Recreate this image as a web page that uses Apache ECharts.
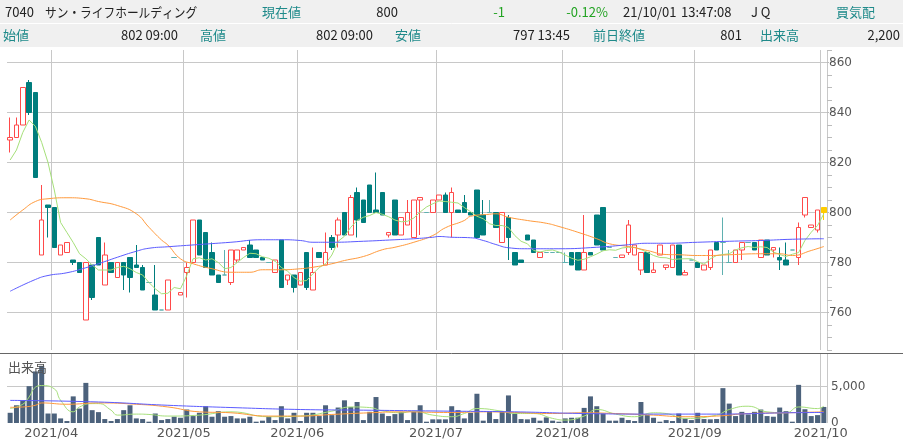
<!DOCTYPE html>
<html><head><meta charset="utf-8">
<script src="https://cdn.jsdelivr.net/npm/echarts@6/dist/echarts.min.js"></script>
<style>html,body{margin:0;padding:0;background:#fff;}#c{width:903px;height:448px;}</style>
</head><body><div id="c"></div>
<script>
const dates = [
'2021/03/23','2021/03/24','2021/03/25','2021/03/26','2021/03/29','2021/03/30','2021/03/31',
'2021/04/01','2021/04/02','2021/04/05','2021/04/06','2021/04/07','2021/04/08','2021/04/09','2021/04/12','2021/04/13','2021/04/14','2021/04/15','2021/04/16','2021/04/19','2021/04/20','2021/04/21','2021/04/22','2021/04/23','2021/04/26','2021/04/27','2021/04/28','2021/04/30',
'2021/05/06','2021/05/07','2021/05/10','2021/05/11','2021/05/12','2021/05/13','2021/05/14','2021/05/17','2021/05/18','2021/05/19','2021/05/20','2021/05/21','2021/05/24','2021/05/25','2021/05/26','2021/05/27','2021/05/28','2021/05/31',
'2021/06/01','2021/06/02','2021/06/03','2021/06/04','2021/06/07','2021/06/08','2021/06/09','2021/06/10','2021/06/11','2021/06/14','2021/06/15','2021/06/16','2021/06/17','2021/06/18','2021/06/21','2021/06/22','2021/06/23','2021/06/24','2021/06/25','2021/06/28','2021/06/29','2021/06/30',
'2021/07/01','2021/07/02','2021/07/05','2021/07/06','2021/07/07','2021/07/08','2021/07/09','2021/07/12','2021/07/13','2021/07/14','2021/07/15','2021/07/16','2021/07/19','2021/07/20','2021/07/21','2021/07/26','2021/07/27','2021/07/28','2021/07/29','2021/07/30',
'2021/08/02','2021/08/03','2021/08/04','2021/08/05','2021/08/06','2021/08/10','2021/08/11','2021/08/12','2021/08/13','2021/08/16','2021/08/17','2021/08/18','2021/08/19','2021/08/20','2021/08/23','2021/08/24','2021/08/25','2021/08/26','2021/08/27','2021/08/30','2021/08/31',
'2021/09/01','2021/09/02','2021/09/03','2021/09/06','2021/09/07','2021/09/08','2021/09/09','2021/09/10','2021/09/13','2021/09/14','2021/09/15','2021/09/16','2021/09/17','2021/09/21','2021/09/22','2021/09/24','2021/09/27','2021/09/28','2021/09/29','2021/09/30',
'2021/10/01'];

const open  = [829,830,835,852,848,783,803,802,783,784,781,780,757,779,790,771,780,774,780,782,779,778,772,767,761,761,782,767,776,780,797,792,784,775,775,772,781,785,787,785,782,780,776,789,773,775,771,784,769,784,779,790,791,800,791,808,805,811,801,808,791,805,791,795,790,805,800,800,805,807,800,801,804,800,809,799,800,800,788,798,784,781,791,789,782,784,784,784,780,784,784,777,784,799,802,786,782,782,784,783,777,784,776,783,778,778,787,775,781,780,777,778,788,788,780,780,785,788,788,782,789,785,782,781,785,782,799,794,793,802];
const high  = [838,838,850,853,848,811,803,802,787,788,781,780,780,779,790,788,780,780,780,782,787,779,772,779,761,773,782,768,780,797,797,792,788,775,785,785,785,786,789,785,782,780,781,789,775,775,776,784,786,784,792,791,798,800,807,810,805,811,816,808,792,805,798,805,805,806,800,805,807,808,810,801,807,800,809,805,805,800,800,799,784,781,791,789,784,784,784,784,784,784,784,799,784,799,802,786,782,783,797,787,784,784,780,787,779,787,787,777,781,780,779,785,788,798,785,785,788,788,788,789,789,786,786,788,785,796,806,795,801,802];
const low   = [824,830,835,839,814,783,790,786,783,784,779,776,757,765,779,771,776,774,769,768,778,769,772,761,761,761,782,767,766,780,783,778,775,772,775,771,780,785,782,782,781,780,776,770,771,768,771,769,769,782,779,785,786,791,791,790,796,800,800,799,790,791,791,795,790,791,800,800,805,800,790,800,800,799,790,791,800,794,788,781,779,780,789,784,782,784,784,784,780,779,777,777,783,787,785,786,782,782,783,783,775,776,776,783,777,778,775,775,781,778,777,777,785,775,780,780,781,788,785,782,783,782,777,779,785,779,798,794,792,797];
const close = [830,835,850,840,814,797,802,786,787,788,780,776,780,766,779,783,776,780,775,774,778,769,772,761,761,773,782,768,778,797,783,778,775,772,775,785,785,786,782,782,781,780,781,770,775,770,776,770,776,782,784,786,797,791,806,797,796,800,800,799,792,791,798,800,805,806,800,805,807,800,808,800,800,799,790,791,800,794,800,790,779,780,789,784,784,784,784,784,780,779,777,784,783,787,785,786,782,783,795,787,784,776,777,787,779,787,775,776,781,778,779,785,785,788,780,785,788,788,785,789,783,786,781,779,785,794,806,795,801,800];
const volume = [1400,2430,3110,5050,7070,7840,1300,1300,630,270,3650,1980,5500,1760,1490,540,270,540,1760,2430,630,540,180,1300,400,540,860,720,1850,950,1400,2300,860,1620,860,950,630,630,860,180,320,860,400,2300,630,1400,270,1400,1400,950,2430,1080,2120,3110,2200,2880,400,1530,3560,1300,950,1220,1530,400,1530,2430,180,500,500,500,2300,1760,630,1400,4010,320,1530,540,1620,3780,1300,540,500,720,320,770,320,180,630,720,720,2070,3650,2300,1300,320,320,720,400,270,2880,1080,720,180,400,270,1300,630,400,1400,540,500,540,4780,2660,950,1530,1170,1530,1850,950,860,2120,1620,180,5230,1890,950,1080,2200];

const ma5 = [821,825,832,837,834.5,828,820,809,796,792,788,783.5,781.5,779,777,777,777,778,778.5,777.5,776,775,772,769.5,767.5,767.7,770,769.5,774.8,781.5,781.9,781,781.5,780,777.5,778,780,782,783.7,783.5,782.3,781.7,780.5,778,776.5,774,772.5,772.8,775.5,778,779.5,783,788.5,790.5,794.1,796.8,798.1,798.8,800,799.3,798.3,797,796.3,796.5,797.8,800.2,802.2,803.5,804.6,804.4,804.1,803.8,802,800.3,798.5,797.5,795.5,794.8,794.8,794,790.8,788.5,787.5,784.8,784.2,784.8,785,784.2,783,781.7,780.9,781.3,782.3,783.4,784.7,785.1,784.9,785.8,786.1,786.1,785.2,784.1,782.8,782,781.9,781.2,781.4,781.5,781.5,780.3,779.3,781.5,782.8,783.2,783.5,785,785.9,786.4,786,786.3,786,784.2,783.2,782.4,783.3,784,788.8,792.1,794.8,799.5];
const ma25 = [[0,797],[2,801],[4,804.4],[6,805.5],[9,805.9],[12,805.5],[14,804.4],[17,802.8],[20,799.5],[22,794.1],[24,789],[25,787],[27,781.5],[29,779.5],[32,777.5],[35,776.1],[38,776.1],[40,777.1],[43,777.1],[46,777.5],[48,778.1],[51,779.5],[53,780.8],[56,782.4],[59,785.1],[61,786.1],[64,788.1],[67,790.8],[69,793.9],[72,796.8],[73,798.5],[76,799.3],[77,799.5],[79,798.1],[82,796.8],[85,795.7],[87,794.4],[90,792.1],[93,789.5],[95,787.5],[98,786.4],[101,784.8],[104,783.2],[106,783.1],[109,782.8],[111,782.8],[114,783.1],[119,783.5],[122,783.5],[124,782.8],[127,784.8],[129,786.4]];
const ma75 = [[0,768.5],[4,773.2],[6,774.8],[9,775.9],[12,777.9],[14,779.5],[17,782.1],[20,784.5],[22,785.7],[25,786.3],[30,787.2],[35,788.1],[40,789.1],[43,789.1],[46,788.8],[48,788.1],[51,788.1],[56,788.5],[61,789.1],[64,789.5],[67,790.1],[68,790.4],[70,790.1],[73,789.9],[75,788.8],[77,787.2],[79,785.9],[82,785.5],[87,785.5],[93,786.1],[98,787.1],[101,787.7],[104,787.7],[109,788.1],[114,788.5],[119,788.8],[124,789.3],[129,789.5]];
const vma5 = [[0,1980],[2,2570],[3,3560],[4,4900],[5,5130],[7,4680],[8,3110],[10,1530],[11,2200],[13,2660],[14,2660],[16,1760],[17,1080],[20,1220],[22,1170],[25,950],[30,1080],[35,1530],[41,860],[46,950],[51,1620],[54,2200],[57,2120],[59,1670],[62,1400],[64,1620],[67,1080],[70,860],[72,1300],[74,1980],[78,1620],[80,1300],[83,1300],[86,630],[88,400],[91,950],[93,1850],[96,1220],[99,860],[102,1400],[104,1300],[107,630],[112,1080],[114,1850],[117,2300],[120,1530],[123,1400],[125,2200],[128,1980],[129,2300]];
const vma25 = [[0,2150],[2,2200],[4,2430],[5,2750],[9,2570],[14,2750],[20,2570],[25,2200],[30,1530],[35,1400],[41,950],[46,950],[51,1170],[57,1400],[62,1530],[70,1440],[75,1530],[80,1440],[86,1300],[91,1400],[96,1300],[102,1080],[107,860],[112,950],[117,1300],[123,1400],[129,1530]];
const vma75 = [[0,3100],[14,2880],[25,2430],[35,2120],[46,1850],[56,1760],[70,1620],[80,1530],[91,1300],[102,1220],[112,1220],[123,1400],[129,1440]];

const priceMin = 745, priceMax = 865;
const volMax = 9460;

const TEAL = '#007d7d', RED = '#ff4a4a';
const monthStart = (idx) => idx > 0 && dates[idx].slice(0, 7) !== dates[idx - 1].slice(0, 7);

const candleData = dates.map((d, i) => {
  const item = { value: [open[i], close[i], low[i], high[i]] };
  if (i === dates.length - 1) item.itemStyle = { color: '#ffcc00', color0: '#ffcc00', borderColor: '#ffcc00', borderColor0: '#ffcc00', borderColorDoji: '#ffcc00' };
  return item;
});

const hdrFont = '"Noto Sans CJK JP", sans-serif';
const TL = '#1f8a8a', TX = '#222', GR = '#22a322';
const headerTexts = [
  ['7040', 5, 12, TX, 'left'], ['現在値', 262, 12, TL, 'left'], ['800', 398, 12, TX, 'right'],
  ['-1', 505, 12, GR, 'right'], ['-0.12%', 608, 12, GR, 'right'], ['21/10/01', 623, 12, TX, 'left'],
  ['13:47:08', 681, 12, TX, 'left'], ['J Q', 751, 12, TX, 'left'], ['買気配', 836, 12, TL, 'left'],
  ['始値', 3, 35, TL, 'left'], ['802 09:00', 178, 35, TX, 'right'], ['高値', 200, 35, TL, 'left'],
  ['802 09:00', 373, 35, TX, 'right'], ['安値', 395, 35, TL, 'left'], ['797 13:45', 570, 35, TX, 'right'],
  ['前日終値', 593, 35, TL, 'left'], ['801', 742, 35, TX, 'right'], ['出来高', 760, 35, TL, 'left'],
  ['2,200', 900, 35, TX, 'right']
];
const graphics = [
  { type: 'rect', shape: { x: 0, y: 0, width: 903, height: 47 }, style: { fill: '#f0f0f0' }, silent: true },
  { type: 'line', shape: { x1: 0, y1: 23.5, x2: 903, y2: 23.5 }, style: { stroke: '#ffffff', lineWidth: 1 } },
  { type: 'line', shape: { x1: 0, y1: 353.5, x2: 903, y2: 353.5 }, style: { stroke: '#666', lineWidth: 1 }, z: 10 },
  { type: 'text', x: 8, y: 367, style: { text: '出来高', fill: '#555', font: '13px ' + hdrFont, textVerticalAlign: 'middle' }, z: 10 },
  { type: 'text', x: 45, y: 12, scaleX: 0.9, style: { text: 'サン・ライフホールディング', fill: TX, font: '13px ' + hdrFont, textVerticalAlign: 'middle' } }
];
headerTexts.forEach(([t, x, y, c, a]) => graphics.push({ type: 'text', x, y, style: { text: t, fill: c, font: '13px ' + hdrFont, textAlign: a, textVerticalAlign: 'middle' } }));

const chart = echarts.init(document.getElementById('c'), null, { renderer: 'canvas' });
const lineS = (data, color, xi, yi, smooth) => ({ type: 'line', data, xAxisIndex: xi, yAxisIndex: yi, showSymbol: false, smooth, lineStyle: { width: 1, color }, itemStyle: { color }, z: 5, silent: true });
chart.setOption({
  animation: false,
  backgroundColor: '#fff',
  grid: [
    { left: 7, right: 76, top: 50, height: 300 },
    { left: 7, right: 76, top: 354, height: 69 }
  ],
  xAxis: [
    { type: 'category', data: dates, gridIndex: 0, axisLine: { show: false }, axisTick: { show: false }, axisLabel: { show: false },
      splitLine: { show: true, interval: monthStart, lineStyle: { color: '#c8c8c8' } } },
    { type: 'category', data: dates, gridIndex: 1, axisLine: { show: false }, axisTick: { show: false },
      axisLabel: { interval: monthStart, formatter: v => v.slice(0, 7), color: '#555', fontSize: 13, fontFamily: 'DejaVu Sans', margin: 4, padding: [0, 6, 0, 0] },
      splitLine: { show: true, interval: monthStart, lineStyle: { color: '#c8c8c8' } } }
  ],
  yAxis: [
    { type: 'value', gridIndex: 0, position: 'right', min: priceMin, max: priceMax, interval: 5,
      axisLine: { show: false }, axisTick: { show: true, length: 5, lineStyle: { color: '#bbb' } },
      axisLabel: { formatter: v => (v % 20 === 0 ? String(v) : ''), color: '#555', fontSize: 12, fontFamily: 'DejaVu Sans', margin: 2, backgroundColor: '#fff' },
      splitLine: { show: true, lineStyle: { color: ['rgba(0,0,0,0)', 'rgba(0,0,0,0)', 'rgba(0,0,0,0)', '#c8c8c8'] } } },
    { type: 'value', gridIndex: 1, position: 'right', min: 0, max: volMax, interval: 5000,
      axisLine: { show: false }, axisTick: { show: false },
      axisLabel: { formatter: v => (v === 5000 ? '5,000' : v === 0 ? '0' : ''), color: '#555', fontSize: 12, fontFamily: 'DejaVu Sans', margin: 4 },
      splitLine: { show: true, lineStyle: { color: ['rgba(0,0,0,0)', '#c8c8c8', 'rgba(0,0,0,0)'] } } }
  ],
  series: [
    { type: 'candlestick', data: candleData, xAxisIndex: 0, yAxisIndex: 0, barWidth: 5, z: 3,
      itemStyle: { color: '#ffffff', color0: TEAL, borderColor: RED, borderColor0: TEAL, borderColorDoji: '#5fb0b0', borderWidth: 1 } },
    lineS(ma5, '#a6e07a', 0, 0, false),
    lineS(ma25, '#ff9a3c', 0, 0, true),
    lineS(ma75, '#5c5cff', 0, 0, true),
    { type: 'bar', data: volume, xAxisIndex: 1, yAxisIndex: 1, barWidth: 5, itemStyle: { color: '#4c627c' }, z: 3 },
    lineS(vma5, '#a6e07a', 1, 1, true),
    lineS(vma25, '#ff9a3c', 1, 1, true),
    lineS(vma75, '#5c5cff', 1, 1, true)
  ],
  graphic: graphics
});
</script></body></html>
